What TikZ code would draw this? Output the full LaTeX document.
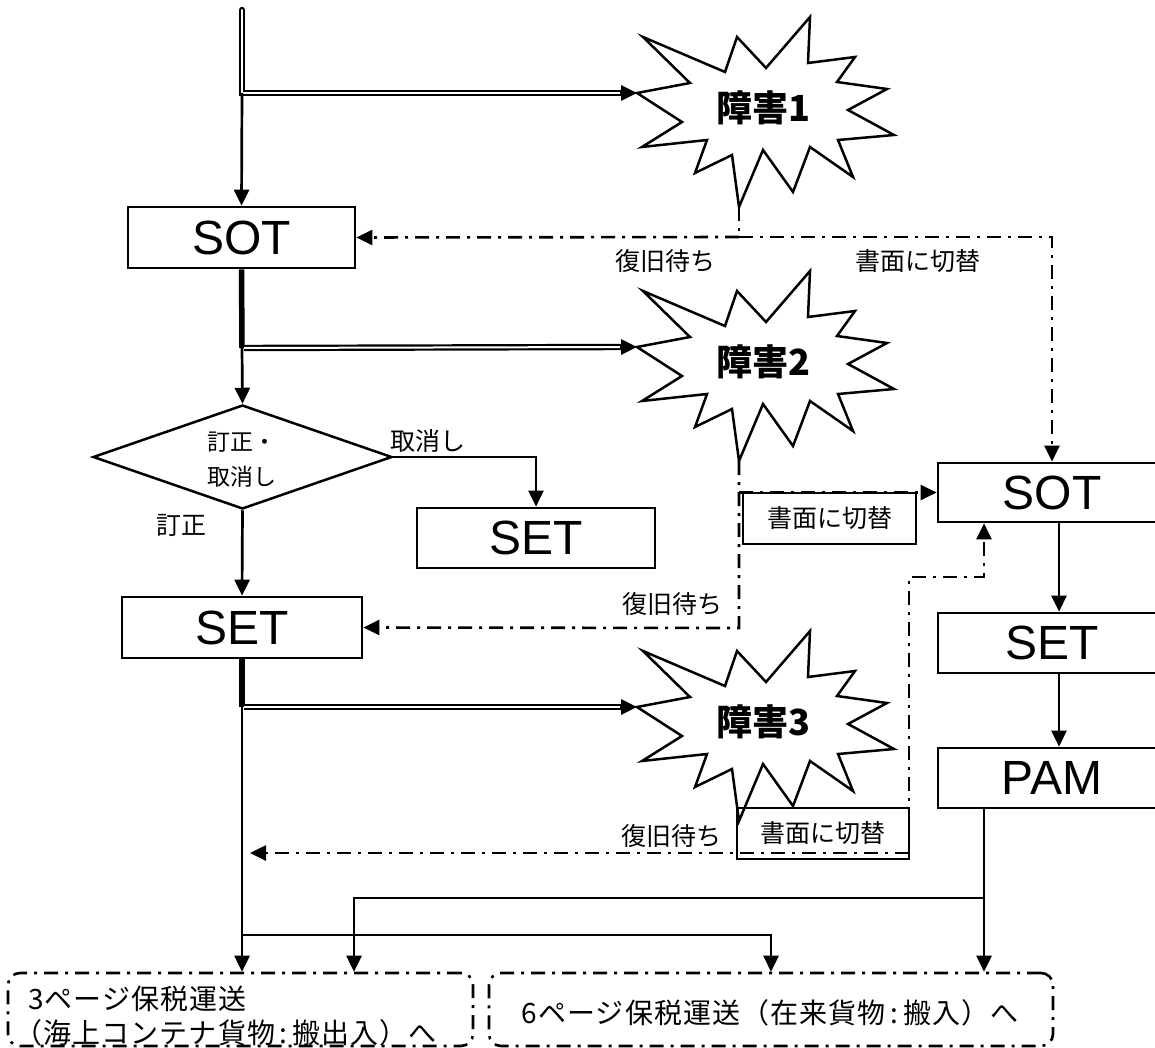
\documentclass[tikz,border=0pt]{standalone}
\usepackage{fontspec}
\setmainfont{Liberation Sans}
\newfontfamily\jp{Noto Sans CJK JP}
\newfontfamily\jpw[LetterSpace=4]{Noto Sans CJK JP}
\usetikzlibrary{shapes.geometric,arrows.meta,calc}
\newcommand\burstpath{(643,37) -- (725,72) -- (737,37) -- (766,68) -- (810,17) -- (808,63) -- (855,57) -- (837,82) -- (887,89) -- (848,110) -- (894,135) -- (838,140) -- (853,177) -- (810,147) -- (793,192) -- (763,150) -- (739,207) -- (732,155) -- (695,173) -- (707,140) -- (642,147) -- (682,122) -- (637,93) -- (690,83) -- cycle}
\begin{document}
\begin{tikzpicture}[x=1pt,y=-1pt,
  ln/.style={line width=2.7pt},
  arr/.style={ln,-{Triangle[length=16pt,width=15pt]}},
  dd/.style={line width=2.6pt,dash pattern=on 14pt off 7pt on 3pt off 7pt},
  darr/.style={dd,-{Triangle[length=16pt,width=15pt]}},
  dbl/.style={line width=2.2pt,double=white,double distance=2pt},
  thickseg/.style={line width=5.5pt},
  bx/.style={draw,line width=2.7pt,rectangle,inner sep=0pt,font=\fontsize{48}{52}\selectfont},
  lbl/.style={font=\jp\fontsize{25}{28}\selectfont,inner sep=0pt},
  sbox/.style={draw,line width=2.7pt,rectangle,inner sep=0pt,font=\jp\fontsize{25}{28}\selectfont},
  burstlbl/.style={font=\jp\bfseries\fontsize{36}{40}\selectfont,inner sep=0pt},
  dest/.style={draw,dd,rounded corners=12pt,inner sep=0pt},
  desttext/.style={font=\jpw\fontsize{28}{34}\selectfont,inner sep=0pt},
]
\useasboundingbox (0,0) rectangle (1155,1048);
\clip (0,0) rectangle (1155,1048);

% bursts
\foreach \dy/\n in {0/1,254/2,614/3}{
  \begin{scope}[shift={(0,\dy)}]
    \draw[line width=2.5pt,line join=miter] \burstpath;
  \end{scope}
  \node[burstlbl] (b\n) at (763,108+\dy) {障害\n};
  \coordinate (b\n w) at (637,93+\dy);
  \coordinate (b\n s) at (739,207+\dy);
}

% boxes
\node[bx, minimum width=227, minimum height=61] (SOT1) at (241.5,237.5) {SOT};
\node[bx, minimum width=240, minimum height=61] (SET1) at (242,627.5) {SET};
\node[bx, minimum width=238, minimum height=60] (SETc) at (536,538) {SET};
\node[bx, minimum width=228, minimum height=59] (SOT2) at (1052,492.5) {SOT};
\node[bx, minimum width=228, minimum height=60] (SET2) at (1052,643) {SET};
\node[bx, minimum width=228, minimum height=60] (PAM) at (1052,778) {PAM};
\node[draw, diamond, line width=2.5pt, minimum width=299, minimum height=104, inner sep=0pt] (dia) at (242.5,457) {};
\node[font=\jp\fontsize{23}{35}\selectfont, align=center, inner sep=0pt] (diat) at (242,460) {訂正・\\取消し};

\node[sbox, minimum width=173, minimum height=51] (sw2) at (829.5,518.5) {書面に切替};
\node[sbox, minimum width=172, minimum height=51] (sw3) at (823,833.5) {書面に切替};

\node[dest, minimum width=465, minimum height=73] (dst1) at (240.5,1009.5) {};
\node[desttext, align=left, anchor=west] (dst1t) at (28,1016) {3ページ保税運送\\\hspace*{-14pt}（海上コンテナ貨物\,:\,搬出入）へ};
\node[dest, minimum width=564, minimum height=73] (dst2) at (771,1009.5) {};
\node[desttext] (dst2t) at (770,1013) {6ページ保税運送（在来貨物\,:\,搬入）へ};

% labels
\node[lbl] (w1) at (665,261) {復旧待ち};
\node[lbl] (k1) at (918,261) {書面に切替};
\node[lbl] (tor) at (428,441) {取消し};
\node[lbl] (tei) at (181,525) {訂正};
\node[lbl] (w2) at (672,604) {復旧待ち};
\node[lbl] (w3) at (671,836) {復旧待ち};

% main flow
\coordinate (top) at (242,10);
\coordinate (j1) at (242,93);
\draw[dbl,line cap=round] (top) -- (j1) -- ($(b1w)+(-15,0)$);
\draw[arr] ($(b1w)+(-17,0)$) -- (b1w);
\draw[arr] (j1) -- (SOT1.north);

\coordinate (j2) at (242,348);
\draw[thickseg] (SOT1.south) -- (j2);
\draw[dbl] (244,348) -- ($(b2w)+(-15,0)$);
\draw[arr] ($(b2w)+(-17,0)$) -- (b2w);
\draw[arr] (j2) -- (dia.north);

\draw[arr] (dia.east) -| (SETc.north);
\draw[arr] (dia.south) -- (SET1.north);

\coordinate (j3) at (242,707);
\draw[thickseg] (SET1.south) -- (j3);
\draw[dbl] (244,707) -- ($(b3w)+(-15,0)$);
\draw[arr] ($(b3w)+(-17,0)$) -- (b3w);
\draw[arr] (j3) -- (j3 |- dst1.north);

\coordinate (j4) at (242,935);
\draw[arr] (j4) -| (dst2.north);

% right column
\draw[arr] ([xshift=7pt]SOT2.south) -- ([xshift=7pt]SET2.north);
\draw[arr] ([xshift=7pt]SET2.south) -- ([xshift=7pt]PAM.north);
\coordinate (p0) at ([xshift=-68pt]PAM.south);
\draw[arr] (p0) -- (p0 |- dst2.north);
\coordinate (j5) at (984,898);
\draw[arr] (j5) -| ($(dst1.north)+(113.5,0)$);

% recovery / switch lines
\coordinate (r1) at (739,237);
\draw[dd] (b1s) -- (r1);
\draw[darr] (r1) -- (SOT1.east);
\draw[darr] (r1) -| (SOT2.north);

\coordinate (r2) at (739,628);
\draw[darr] (b2s) -- (r2) -- (SET1.east);
\draw[darr] (b2s |- SOT2.west) -- (SOT2.west);

\coordinate (r3) at (737,853);
\coordinate (r3e) at (909,853);
\coordinate (r3l) at (250,853);
\draw[dd] ($(b3s)+(-2,0)$) -- (r3);
\draw[darr] (r3e) -- (r3l);
\draw[darr] (r3e) -- (909,577) -- (984,577) -- ([xshift=-68pt]SOT2.south);
\end{tikzpicture}
\end{document}
